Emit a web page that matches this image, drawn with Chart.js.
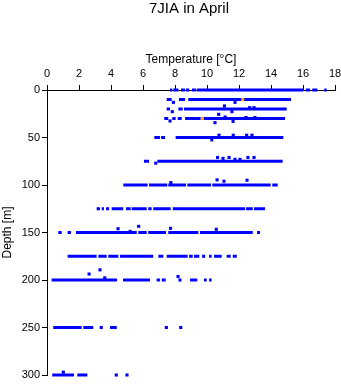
<!DOCTYPE html>
<html>
<head>
<meta charset="utf-8">
<title>7JIA in April</title>
<script src="https://cdn.jsdelivr.net/npm/chart.js@4.4.1/dist/chart.umd.min.js"></script>
<style>
    html, body { margin: 0; padding: 0; background: #fff; }
    #profileChart { display: block; }
</style>
</head>
<body>
<canvas id="profileChart" width="341" height="384"></canvas>
<script>
// sampling depths [m]
const depths = [0, 10, 20, 30, 50, 75, 100, 125, 150, 175, 200, 250, 300];

// dense runs of readings at each depth: [from, to] temperature [°C]
const run0 = [[7.69, 7.83], [7.89, 8.21], [8.38, 8.63], [8.69, 8.89], [9.06, 9.31], [9.36, 16.02], [16.17, 16.44], [16.58, 16.89], [17.33, 17.48]];
const run10 = [[7.48, 7.79], [8.25, 8.63], [8.83, 15.25]];
const run20 = [[7.48, 7.69], [8.21, 8.48], [8.56, 14.98]];
const run30 = [[7.33, 7.58], [7.83, 8.04], [8.17, 8.42], [8.63, 9.61], [9.77, 14.88]];
const run50 = [[6.71, 7.06], [7.13, 7.38], [8.04, 14.77]];
const run75 = [[6.06, 6.38], [6.90, 14.73]];
const run100 = [[4.77, 6.29], [6.38, 7.52], [7.58, 8.69], [8.77, 10.25], [10.33, 13.98], [14.08, 14.42]];
const run125 = [[3.10, 3.31], [3.42, 3.56], [3.69, 3.88], [4.04, 4.77], [4.94, 5.23], [5.29, 6.23], [6.33, 6.54], [6.64, 7.73], [7.86, 12.38], [12.44, 12.86], [12.94, 13.63]];
const run150 = [[0.71, 0.92], [1.29, 1.50], [1.81, 5.61], [5.71, 6.23], [6.33, 7.44], [7.58, 9.46], [9.56, 12.86], [13.13, 13.31]];
const run175 = [[1.29, 3.10], [3.21, 3.73], [3.83, 4.46], [4.56, 6.44], [6.96, 7.27], [7.48, 8.79], [8.88, 9.11], [9.19, 9.52], [10.13, 10.29], [10.44, 10.92], [11.23, 11.48], [11.61, 11.86]];
const run200 = [[0.29, 4.38], [4.75, 6.44], [6.85, 7.06], [7.17, 7.42], [8.94, 9.39], [9.81, 9.98], [10.13, 10.29]];
const run250 = [[0.39, 2.17], [2.27, 2.89], [3.94, 4.36]];
const run300 = [[0.33, 1.69], [1.89, 2.52]];

// single readings
const dotTemp = [7.90, 11.75, 7.83, 11.09, 11.56, 12.66, 12.94, 10.73, 7.69, 11.13, 12.44, 13.00, 10.50, 11.63,
    10.75, 11.64, 12.48, 12.81, 10.30, 6.80, 10.66, 11.00, 11.38, 11.75, 12.06, 12.56, 12.94,
    7.74, 10.63, 11.06, 12.50, 4.44, 5.20, 5.73, 7.72, 10.58, 6.54, 9.79,
    2.63, 3.31, 3.61, 8.19, 8.31, 3.39, 7.46, 8.36, 1.02, 4.33, 5.00];
const dotDepth = [13, 13, 22.8, 16.8, 22.8, 18.6, 18.6, 25.6, 32.6, 28.4, 29, 29, 34.4, 33,
    47.6, 47.6, 47.6, 47.6, 52.5, 77, 71, 72, 71, 73, 73, 71, 71,
    97.4, 94.6, 96, 95, 146, 148.8, 143.5, 145.6, 146.6, 175, 175,
    193.7, 189.3, 197.7, 196.3, 200, 250, 250, 250, 297, 300, 300];

// flagged readings (orange)
const flagTemp = [12.23, 9.71];
const flagDepth = [10, 30];

// x / y tick values
const tempTicks = [0, 2, 4, 6, 8, 10, 12, 14, 16, 18];
const depthTicks = [0, 50, 100, 150, 200, 250, 300];

const runsByDepth = [run0, run10, run20, run30, run50, run75, run100, run125, run150, run175, run200, run250, run300];

const BLUE = '#0000ff';
const FONT = "'Liberation Sans', Arial, Helvetica, sans-serif";

function runPoints(runs, depth) {
    const pts = [];
    runs.forEach(([a, b]) => {
        pts.push({ x: a, y: depth }, { x: b, y: depth }, { x: b, y: null });
    });
    return pts;
}

const datasets = [
    {
        data: flagTemp.map((t, i) => ({ x: t, y: flagDepth[i] })),
        showLine: false,
        pointStyle: 'rect',
        pointRadius: 2.2,
        pointBorderWidth: 0,
        backgroundColor: '#ffa500',
        clip: false
    },
    {
        data: dotTemp.map((t, i) => ({ x: t, y: dotDepth[i] })),
        showLine: false,
        pointStyle: 'rect',
        pointRadius: 2.2,
        pointBorderWidth: 0,
        backgroundColor: BLUE,
        clip: false
    }
];

depths.forEach((d, i) => {
    datasets.push({
        data: runPoints(runsByDepth[i], d),
        showLine: true,
        spanGaps: false,
        borderColor: BLUE,
        borderWidth: 3,
        borderCapStyle: 'butt',
        pointRadius: 0,
        clip: false
    });
});

// main title, centred over the plot area
const titlePlugin = {
    id: 'plotTitle',
    afterDraw(chart) {
        const { ctx, chartArea } = chart;
        ctx.save();
        ctx.font = '15px ' + FONT;
        ctx.fillStyle = '#000';
        ctx.textAlign = 'center';
        ctx.textBaseline = 'alphabetic';
        ctx.fillText('7JIA in April', (chartArea.left + chartArea.right) / 2 - 2, 13);
        ctx.restore();
    }
};

new Chart(document.getElementById('profileChart'), {
    type: 'scatter',
    data: { datasets },
    options: {
        responsive: false,
        animation: false,
        devicePixelRatio: 1,
        layout: { padding: { top: 0, left: 0, right: 6, bottom: 9 } },
        plugins: {
            legend: { display: false },
            tooltip: { enabled: false }
        },
        scales: {
            x: {
                type: 'linear',
                position: 'top',
                min: 0,
                max: 18,
                afterBuildTicks: s => { s.ticks = tempTicks.map(v => ({ value: v })); },
                afterFit: s => { s.height = 90; s.paddingLeft = 0; s.paddingRight = 0; },
                grid: { drawOnChartArea: false, drawTicks: true, tickLength: 5, color: '#000' },
                border: { color: '#000', width: 1 },
                ticks: { color: '#000', padding: 4, maxRotation: 0, font: { family: FONT, size: 11 } },
                title: {
                    display: true,
                    text: 'Temperature [°C]',
                    color: '#000',
                    font: { family: FONT, size: 12 },
                    padding: { top: 52.7, bottom: 0 }
                }
            },
            y: {
                type: 'linear',
                position: 'left',
                reverse: true,
                min: 0,
                max: 300,
                afterBuildTicks: s => { s.ticks = depthTicks.map(v => ({ value: v })); },
                afterFit: s => { s.width = 47; s.paddingTop = 0; s.paddingBottom = 0; },
                grid: { drawOnChartArea: false, drawTicks: true, tickLength: 5, color: '#000' },
                border: { color: '#000', width: 1 },
                ticks: { color: '#000', padding: 2, font: { family: FONT, size: 11 } },
                title: {
                    display: true,
                    text: 'Depth [m]',
                    color: '#000',
                    font: { family: FONT, size: 12 },
                    padding: { top: 0, bottom: 0 }
                }
            }
        }
    },
    plugins: [titlePlugin]
});
</script>
</body>
</html>
